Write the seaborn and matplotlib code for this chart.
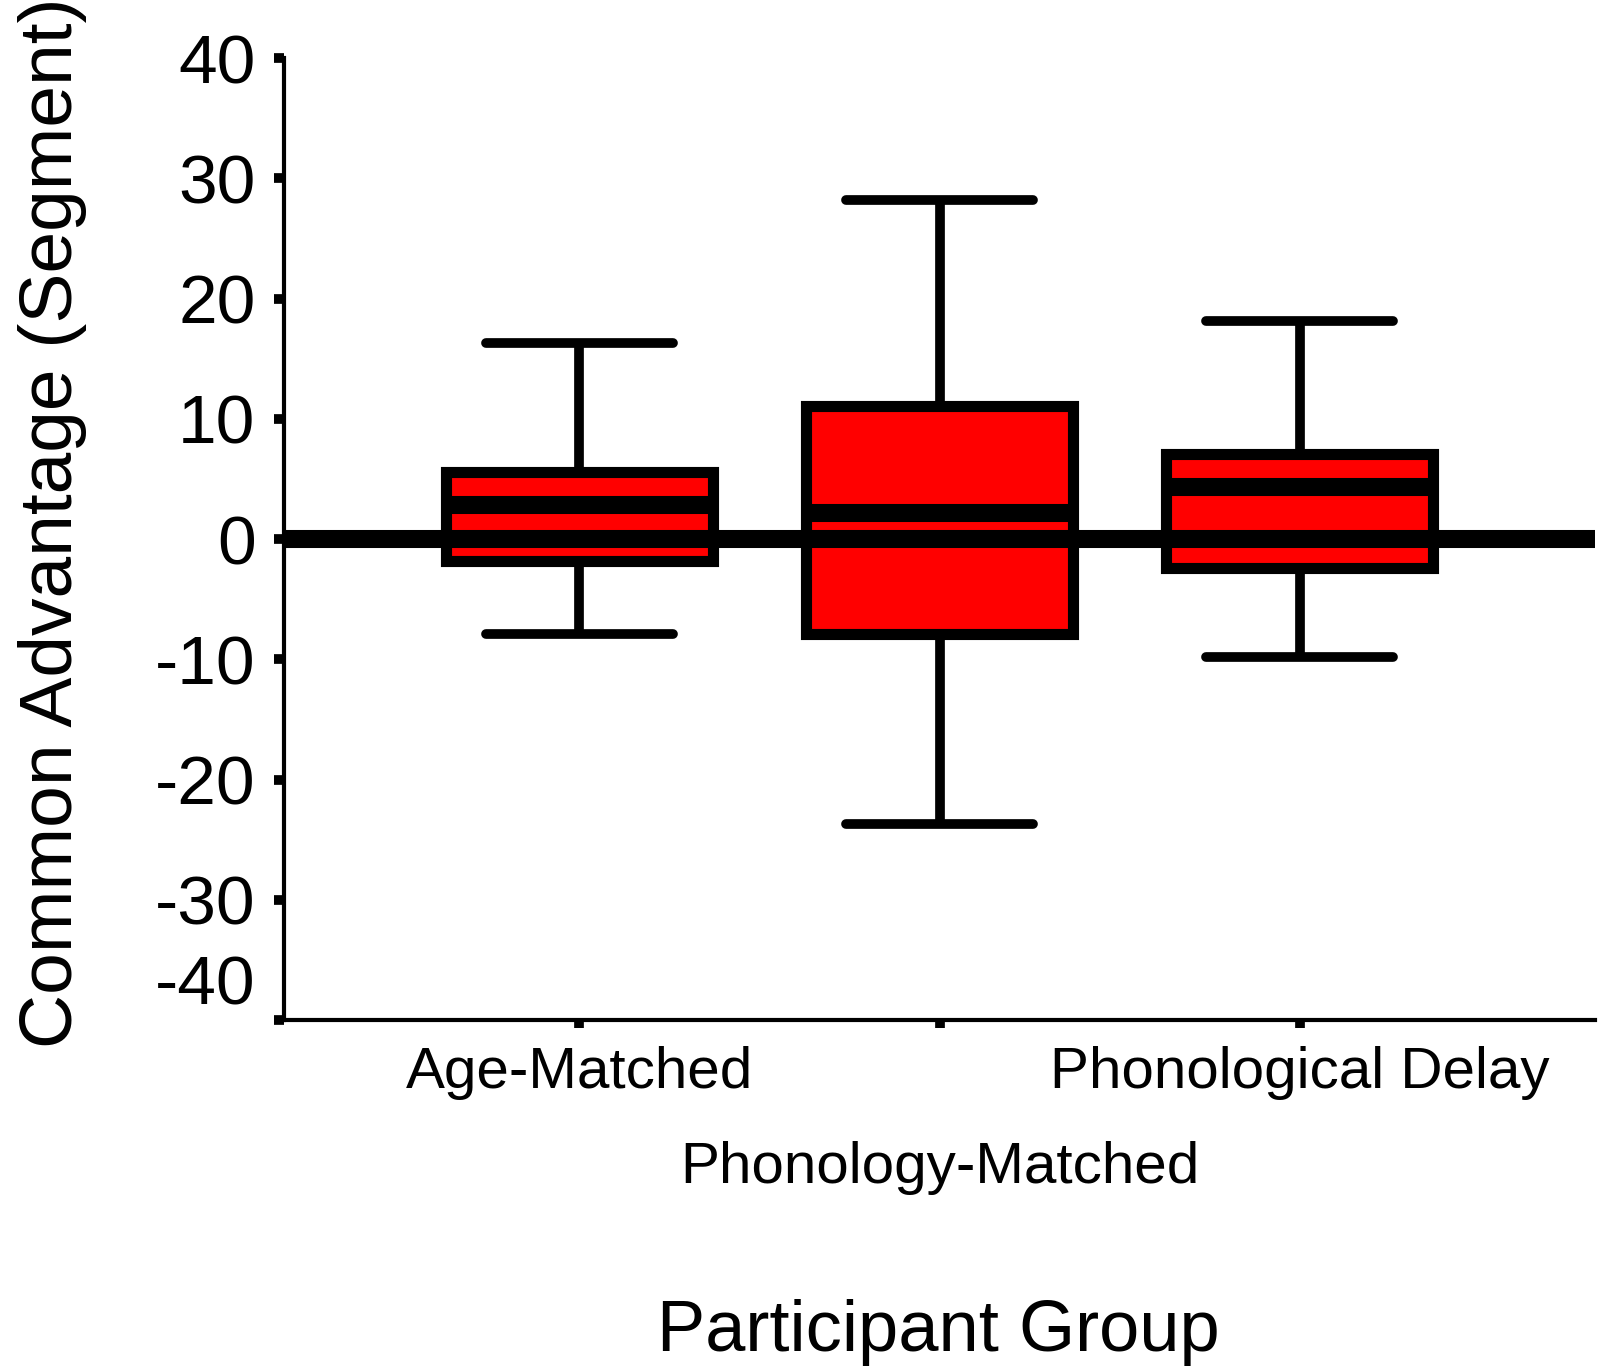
import pandas as pd
import numpy as np
import seaborn as sns
import matplotlib.pyplot as plt
from matplotlib.transforms import ScaledTranslation

# five-number summaries (min, q1, median, q3, max)
groups = ['Age-Matched', 'Phonology-Matched', 'Phonological Delay']
whisker_low = [-7.9, -23.7, -9.8]
box_low = [-1.8, -7.9, -2.4]
medians = [2.8, 2.2, 4.3]
box_high = [5.6, 11.1, 7.1]
whisker_high = [16.3, 28.2, 18.1]

rows = []
for i, g in enumerate(groups):
    for v in [whisker_low[i], box_low[i], medians[i], box_high[i], whisker_high[i]]:
        rows.append({'group': g, 'value': v})
df = pd.DataFrame(rows)

sns.set_style('ticks')
plt.rcParams['font.family'] = ['Liberation Sans', 'DejaVu Sans']
plt.rcParams['axes.unicode_minus'] = False
plt.rcParams['text.color'] = 'black'
plt.rcParams['axes.labelcolor'] = 'black'
plt.rcParams['xtick.color'] = 'black'
plt.rcParams['ytick.color'] = 'black'

fig = plt.figure(figsize=(16.01, 13.67), dpi=100)
ax = fig.add_axes([0.1774, 0.2538, 0.8189, 0.7037])

sns.boxplot(data=df, x='group', y='value', order=groups, whis=(0, 100),
            width=0.74, color='red', saturation=1, linecolor='black',
            linewidth=8, capwidths=0.52,
            medianprops=dict(linewidth=13, solid_capstyle='butt'),
            whiskerprops=dict(linewidth=7), capprops=dict(linewidth=7),
            ax=ax)

# zero reference line on top of the boxes
ax.axhline(0, color='black', lw=13, zorder=10)

ax.set_xlim(-0.82, 2.82)
ax.set_ylim(-40, 40)
ax.set_yticks(np.arange(-40, 41, 10))

sns.despine(ax=ax)
for s in ['left', 'bottom']:
    ax.spines[s].set_linewidth(3)
    ax.spines[s].set_color('black')

ax.tick_params(axis='y', length=7.5, width=7, pad=13, labelsize=50, colors='black')
ax.tick_params(axis='x', length=6, width=7, pad=13, labelsize=42, colors='black')
ax.xaxis.get_major_ticks()[1].set_pad(81)

# lift the -40 label off the x axis as in the original
lab = ax.yaxis.get_major_ticks()[0].label1
lab.set_transform(lab.get_transform() + ScaledTranslation(0, 0.41, fig.dpi_scale_trans))

ax.set_ylabel('Common Advantage (Segment)', fontsize=54)
ax.yaxis.set_label_coords(-0.150, 0.517)
ax.set_xlabel('Participant Group', fontsize=52)
ax.xaxis.set_label_coords(0.499, -0.29)

fig.savefig('out.png', dpi=100)
